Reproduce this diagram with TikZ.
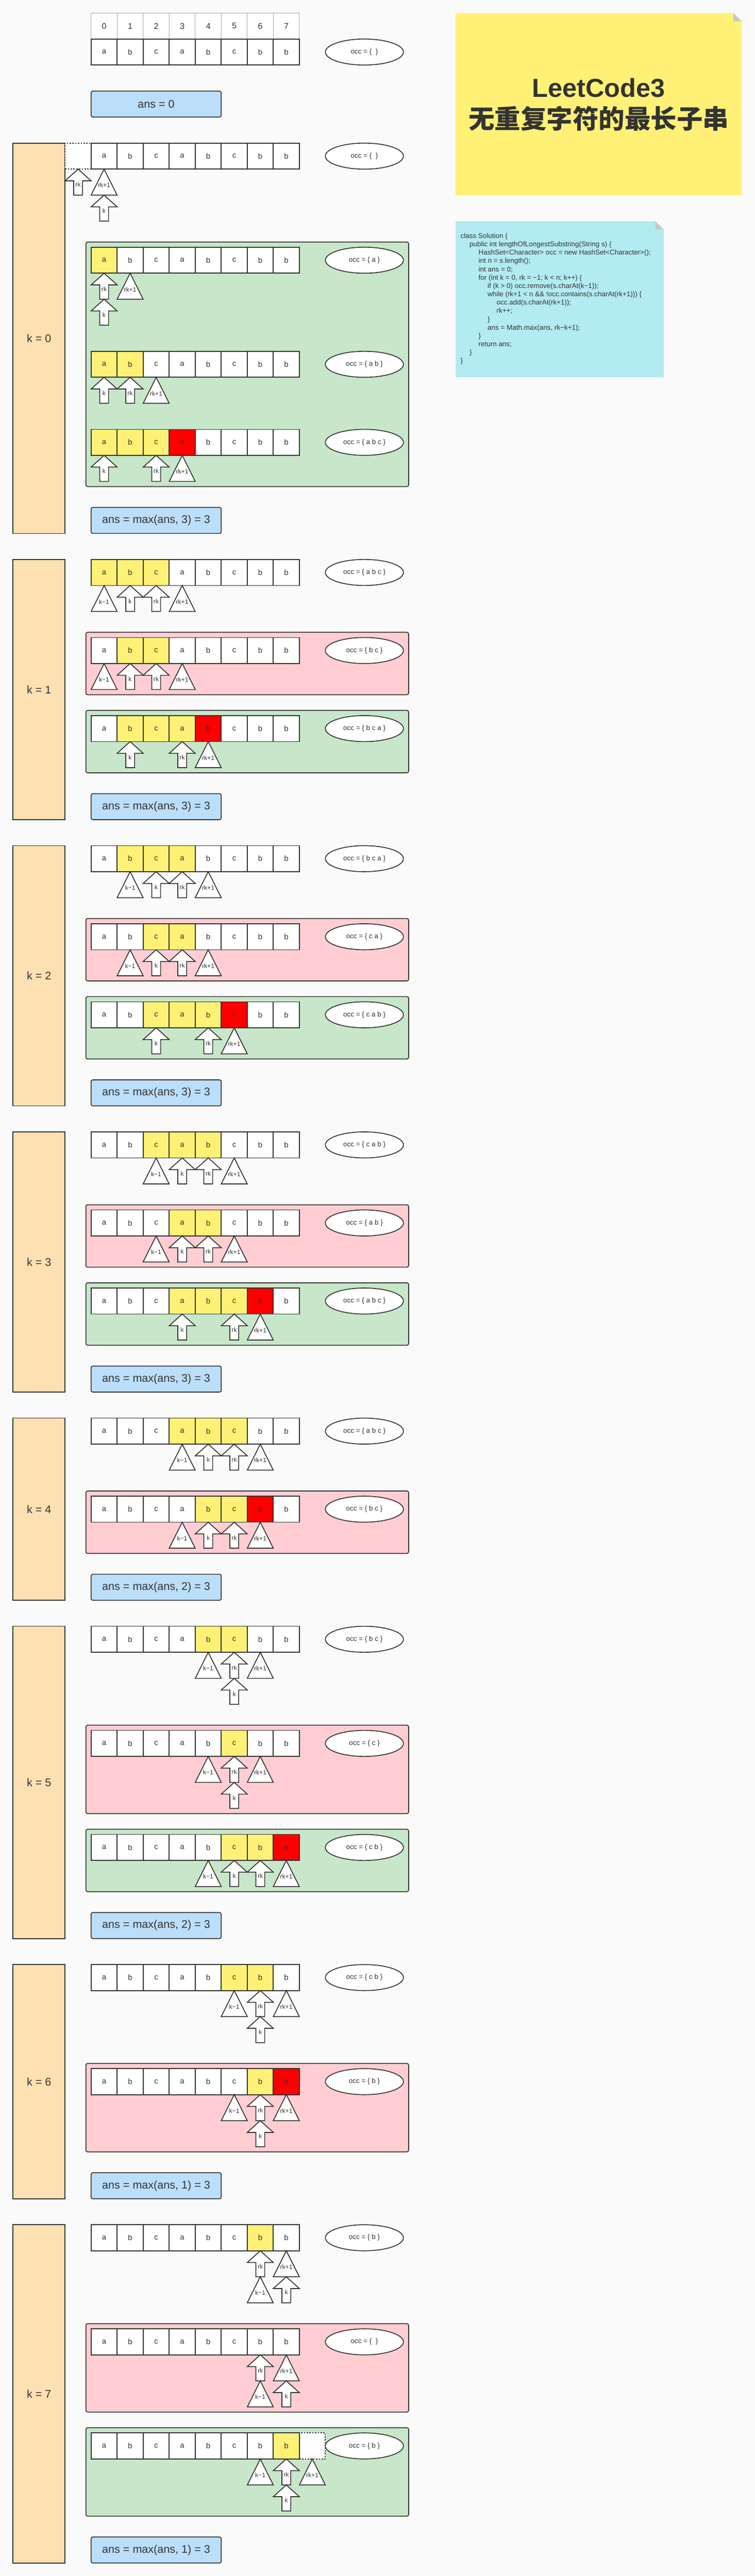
\documentclass[tikz,border=0pt]{standalone}
\usepackage{fontspec}
\setmainfont{Liberation Sans}
\newfontfamily\cjk{Noto Sans CJK SC}
\usetikzlibrary{shapes.geometric}

\definecolor{bg}{HTML}{FAFAFA}
\definecolor{ink}{HTML}{333333}
\definecolor{w}{HTML}{FFFFFF}
\definecolor{y}{HTML}{FFF176}
\definecolor{r}{HTML}{FF0000}
\definecolor{noteyellow}{HTML}{FFF176}
\definecolor{okgreen}{HTML}{C8E6C9}
\definecolor{badpink}{HTML}{FFCDD2}
\definecolor{kfill}{HTML}{FFE0B2}
\definecolor{ansfill}{HTML}{BBDEFB}
\definecolor{notecyan}{HTML}{B2EBF2}
\definecolor{fold}{HTML}{C8C8C8}

\tikzset{
  cell/.style={draw=ink, line width=2.5pt, minimum size=75pt, inner sep=0pt, font=\fontsize{22}{26}\selectfont},
  idx/.style={draw=gray!70, line width=1.2pt, fill=white, minimum size=75pt, inner sep=0pt, font=\fontsize{24}{28}\selectfont},
  ghost/.style={cell, fill=white, dash pattern=on 4pt off 4pt},
  occ/.style={ellipse, draw=ink, line width=2.5pt, fill=white, minimum width=225pt, minimum height=75pt, inner sep=0pt, font=\fontsize{20}{24}\selectfont},
  ansbox/.style={draw=ink, line width=2.5pt, rounded corners=5pt, fill=ansfill, minimum width=375pt, minimum height=75pt, font=\fontsize{32}{36}\selectfont},
  kbox/.style={draw=ink, line width=2.5pt, fill=kfill, minimum width=150pt, font=\fontsize{32}{36}\selectfont},
  okbox/.style={draw=ink, line width=2.5pt, rounded corners=5pt, fill=okgreen},
  badbox/.style={okbox, fill=badpink},
  ptr/.style={draw=ink, line width=2.5pt, fill=white},
  ptrlab/.style={inner sep=0pt, font=\fontsize{18}{20}\selectfont},
  uparr/.pic={
    \draw[ptr] (-0.5,0.45) -- (0,0) -- (0.5,0.45) -- (0.17,0.45) -- (0.17,1) -- (-0.17,1) -- (-0.17,0.45) -- cycle;
    \node[ptrlab] (-lab) at (0,0.6) {#1};
  },
  tri/.pic={
    \draw[ptr] (-0.5,1) -- (0,0) -- (0.5,1) -- cycle;
    \node[ptrlab] (-lab) at (0,0.62) {#1};
  },
}

% one row of the string with its occ set: name, top, fills, set
\newcommand\strrow[4]{%
  \foreach \f [count=\i from 0] in {#3} {
    \pgfmathsetmacro\ch{{"a","b","c","a","b","c","b","b"}[\i]}
    \node[cell, fill=\f] (#1-\i) at (4+\i, #2+0.5) {\ch};
  }
  \node[occ] (#1-occ) at (14, #2+0.5) {occ = \{ #4 \}};
}

\begin{document}
\begin{tikzpicture}[x=75pt, y=-75pt, every node/.append style={text=ink}]
  \useasboundingbox (0,0) rectangle (29,99);
  \fill[bg] (0,0) rectangle (29,99);

  % Title note
  \fill[noteyellow] (17.5,0.5) -- (28.18,0.5) -- (28.5,0.82) -- (28.5,7.5) -- (17.5,7.5) -- cycle;
  \fill[fold] (28.18,0.5) -- (28.5,0.82) -- (28.18,0.82) -- cycle;
  \node[align=center, font=\bfseries\fontsize{75}{91}\selectfont] (title) at (23,4.02) {LeetCode3\\{\cjk\bfseries 无重复字符的最长子串}};

  % Code note
  \fill[notecyan] (17.5,8.5) -- (25.18,8.5) -- (25.5,8.82) -- (25.5,14.5) -- (17.5,14.5) -- cycle;
  \fill[fold] (25.18,8.5) -- (25.5,8.82) -- (25.18,8.82) -- cycle;
  \node[anchor=north west, inner sep=0pt, align=left, font=\fontsize{20}{24}\selectfont] (code) at (17.69,8.96) {class Solution \{\\
\hspace*{26pt}public int lengthOfLongestSubstring(String s) \{\\
\hspace*{52pt}HashSet<Character> occ = new HashSet<Character>();\\
\hspace*{52pt}int n = s.length();\\
\hspace*{52pt}int ans = 0;\\
\hspace*{52pt}for (int k = 0, rk = −1; k < n; k++) \{\\
\hspace*{78pt}if (k > 0) occ.remove(s.charAt(k−1));\\
\hspace*{78pt}while (rk+1 < n \&\& !occ.contains(s.charAt(rk+1))) \{\\
\hspace*{104pt}occ.add(s.charAt(rk+1));\\
\hspace*{104pt}rk++;\\
\hspace*{78pt}\}\\
\hspace*{78pt}ans = Math.max(ans, rk−k+1);\\
\hspace*{52pt}\}\\
\hspace*{52pt}return ans;\\
\hspace*{26pt}\}\\
\}};

  % Indices and string
  \foreach \i in {0,...,7}
    \node[idx] (idx-\i) at (4+\i,1) {\i};
  \strrow{s}{1.5}{w,w,w,w,w,w,w,w}{}
  \node[ansbox] (ans0) at (6,4) {ans = 0};

  % k = 0
  \node[kbox, minimum height=1125pt] (k0) at (1.5,13) {k = 0};
  \node[ghost] (h0-pre) at (3,6) {};
  \strrow{h0}{5.5}{w,w,w,w,w,w,w,w}{}
  \pic (h0rk) at (3,6.5) {uparr=rk};
  \pic (h0rk1) at (4,6.5) {tri=rk+1};
  \pic (h0k) at (4,7.5) {uparr=k};
  \draw[okbox] (3.3,9.3) rectangle (15.7,18.7);
  \strrow{a0}{9.5}{y,w,w,w,w,w,w,w}{a}
  \pic (a0rk) at (4,10.5) {uparr=rk};
  \pic (a0rk1) at (5,10.5) {tri=rk+1};
  \pic (a0k) at (4,11.5) {uparr=k};
  \strrow{b0}{13.5}{y,y,w,w,w,w,w,w}{a b}
  \pic (b0k) at (4,14.5) {uparr=k};
  \pic (b0rk) at (5,14.5) {uparr=rk};
  \pic (b0rk1) at (6,14.5) {tri=rk+1};
  \strrow{c0}{16.5}{y,y,y,r,w,w,w,w}{a b c}
  \pic (c0k) at (4,17.5) {uparr=k};
  \pic (c0rk) at (6,17.5) {uparr=rk};
  \pic (c0rk1) at (7,17.5) {tri=rk+1};
  \node[ansbox] (ans-k0) at (6,20) {ans = max(ans, 3) = 3};

  % k = 1
  \node[kbox, minimum height=750pt] (k1) at (1.5,26.5) {k = 1};
  \strrow{h1}{21.5}{y,y,y,w,w,w,w,w}{a b c}
  \pic (h1km) at (4,22.5) {tri=k−1};
  \pic (h1k) at (5,22.5) {uparr=k};
  \pic (h1rk) at (6,22.5) {uparr=rk};
  \pic (h1rk1) at (7,22.5) {tri=rk+1};
  \draw[badbox] (3.3,24.3) rectangle (15.7,26.7);
  \strrow{a1}{24.5}{w,y,y,w,w,w,w,w}{b c}
  \pic (a1km) at (4,25.5) {tri=k−1};
  \pic (a1k) at (5,25.5) {uparr=k};
  \pic (a1rk) at (6,25.5) {uparr=rk};
  \pic (a1rk1) at (7,25.5) {tri=rk+1};
  \draw[okbox] (3.3,27.3) rectangle (15.7,29.7);
  \strrow{b1}{27.5}{w,y,y,y,r,w,w,w}{b c a}
  \pic (b1k) at (5,28.5) {uparr=k};
  \pic (b1rk) at (7,28.5) {uparr=rk};
  \pic (b1rk1) at (8,28.5) {tri=rk+1};
  \node[ansbox] (ans-k1) at (6,31) {ans = max(ans, 3) = 3};

  % k = 2
  \node[kbox, minimum height=750pt] (k2) at (1.5,37.5) {k = 2};
  \strrow{h2}{32.5}{w,y,y,y,w,w,w,w}{b c a}
  \pic (h2km) at (5,33.5) {tri=k−1};
  \pic (h2k) at (6,33.5) {uparr=k};
  \pic (h2rk) at (7,33.5) {uparr=rk};
  \pic (h2rk1) at (8,33.5) {tri=rk+1};
  \draw[badbox] (3.3,35.3) rectangle (15.7,37.7);
  \strrow{a2}{35.5}{w,w,y,y,w,w,w,w}{c a}
  \pic (a2km) at (5,36.5) {tri=k−1};
  \pic (a2k) at (6,36.5) {uparr=k};
  \pic (a2rk) at (7,36.5) {uparr=rk};
  \pic (a2rk1) at (8,36.5) {tri=rk+1};
  \draw[okbox] (3.3,38.3) rectangle (15.7,40.7);
  \strrow{b2}{38.5}{w,w,y,y,y,r,w,w}{c a b}
  \pic (b2k) at (6,39.5) {uparr=k};
  \pic (b2rk) at (8,39.5) {uparr=rk};
  \pic (b2rk1) at (9,39.5) {tri=rk+1};
  \node[ansbox] (ans-k2) at (6,42) {ans = max(ans, 3) = 3};

  % k = 3
  \node[kbox, minimum height=750pt] (k3) at (1.5,48.5) {k = 3};
  \strrow{h3}{43.5}{w,w,y,y,y,w,w,w}{c a b}
  \pic (h3km) at (6,44.5) {tri=k−1};
  \pic (h3k) at (7,44.5) {uparr=k};
  \pic (h3rk) at (8,44.5) {uparr=rk};
  \pic (h3rk1) at (9,44.5) {tri=rk+1};
  \draw[badbox] (3.3,46.3) rectangle (15.7,48.7);
  \strrow{a3}{46.5}{w,w,w,y,y,w,w,w}{a b}
  \pic (a3km) at (6,47.5) {tri=k−1};
  \pic (a3k) at (7,47.5) {uparr=k};
  \pic (a3rk) at (8,47.5) {uparr=rk};
  \pic (a3rk1) at (9,47.5) {tri=rk+1};
  \draw[okbox] (3.3,49.3) rectangle (15.7,51.7);
  \strrow{b3}{49.5}{w,w,w,y,y,y,r,w}{a b c}
  \pic (b3k) at (7,50.5) {uparr=k};
  \pic (b3rk) at (9,50.5) {uparr=rk};
  \pic (b3rk1) at (10,50.5) {tri=rk+1};
  \node[ansbox] (ans-k3) at (6,53) {ans = max(ans, 3) = 3};

  % k = 4
  \node[kbox, minimum height=525pt] (k4) at (1.5,58) {k = 4};
  \strrow{h4}{54.5}{w,w,w,y,y,y,w,w}{a b c}
  \pic (h4km) at (7,55.5) {tri=k−1};
  \pic (h4k) at (8,55.5) {uparr=k};
  \pic (h4rk) at (9,55.5) {uparr=rk};
  \pic (h4rk1) at (10,55.5) {tri=rk+1};
  \draw[badbox] (3.3,57.3) rectangle (15.7,59.7);
  \strrow{a4}{57.5}{w,w,w,w,y,y,r,w}{b c}
  \pic (a4km) at (7,58.5) {tri=k−1};
  \pic (a4k) at (8,58.5) {uparr=k};
  \pic (a4rk) at (9,58.5) {uparr=rk};
  \pic (a4rk1) at (10,58.5) {tri=rk+1};
  \node[ansbox] (ans-k4) at (6,61) {ans = max(ans, 2) = 3};

  % k = 5
  \node[kbox, minimum height=900pt] (k5) at (1.5,68.5) {k = 5};
  \strrow{h5}{62.5}{w,w,w,w,y,y,w,w}{b c}
  \pic (h5km) at (8,63.5) {tri=k−1};
  \pic (h5rk) at (9,63.5) {uparr=rk};
  \pic (h5rk1) at (10,63.5) {tri=rk+1};
  \pic (h5k) at (9,64.5) {uparr=k};
  \draw[badbox] (3.3,66.3) rectangle (15.7,69.7);
  \strrow{a5}{66.5}{w,w,w,w,w,y,w,w}{c}
  \pic (a5km) at (8,67.5) {tri=k−1};
  \pic (a5rk) at (9,67.5) {uparr=rk};
  \pic (a5rk1) at (10,67.5) {tri=rk+1};
  \pic (a5k) at (9,68.5) {uparr=k};
  \draw[okbox] (3.3,70.3) rectangle (15.7,72.7);
  \strrow{b5}{70.5}{w,w,w,w,w,y,y,r}{c b}
  \pic (b5km) at (8,71.5) {tri=k−1};
  \pic (b5k) at (9,71.5) {uparr=k};
  \pic (b5rk) at (10,71.5) {uparr=rk};
  \pic (b5rk1) at (11,71.5) {tri=rk+1};
  \node[ansbox] (ans-k5) at (6,74) {ans = max(ans, 2) = 3};

  % k = 6
  \node[kbox, minimum height=675pt] (k6) at (1.5,80) {k = 6};
  \strrow{h6}{75.5}{w,w,w,w,w,y,y,w}{c b}
  \pic (h6km) at (9,76.5) {tri=k−1};
  \pic (h6rk) at (10,76.5) {uparr=rk};
  \pic (h6rk1) at (11,76.5) {tri=rk+1};
  \pic (h6k) at (10,77.5) {uparr=k};
  \draw[badbox] (3.3,79.3) rectangle (15.7,82.7);
  \strrow{a6}{79.5}{w,w,w,w,w,w,y,r}{b}
  \pic (a6km) at (9,80.5) {tri=k−1};
  \pic (a6rk) at (10,80.5) {uparr=rk};
  \pic (a6rk1) at (11,80.5) {tri=rk+1};
  \pic (a6k) at (10,81.5) {uparr=k};
  \node[ansbox] (ans-k6) at (6,84) {ans = max(ans, 1) = 3};

  % k = 7
  \node[kbox, minimum height=975pt] (k7) at (1.5,92) {k = 7};
  \strrow{h7}{85.5}{w,w,w,w,w,w,y,w}{b}
  \pic (h7rk) at (10,86.5) {uparr=rk};
  \pic (h7rk1) at (11,86.5) {tri=rk+1};
  \pic (h7km) at (10,87.5) {tri=k−1};
  \pic (h7k) at (11,87.5) {uparr=k};
  \draw[badbox] (3.3,89.3) rectangle (15.7,92.7);
  \strrow{a7}{89.5}{w,w,w,w,w,w,w,w}{}
  \pic (a7rk) at (10,90.5) {uparr=rk};
  \pic (a7rk1) at (11,90.5) {tri=rk+1};
  \pic (a7km) at (10,91.5) {tri=k−1};
  \pic (a7k) at (11,91.5) {uparr=k};
  \draw[okbox] (3.3,93.3) rectangle (15.7,96.7);
  \node[ghost] (b7-post) at (12,94) {};
  \strrow{b7}{93.5}{w,w,w,w,w,w,w,y}{b}
  \pic (b7km) at (10,94.5) {tri=k−1};
  \pic (b7rk) at (11,94.5) {uparr=rk};
  \pic (b7rk1) at (12,94.5) {tri=rk+1};
  \pic (b7k) at (11,95.5) {uparr=k};
  \node[ansbox] (ans-k7) at (6,98) {ans = max(ans, 1) = 3};
\end{tikzpicture}
\end{document}
